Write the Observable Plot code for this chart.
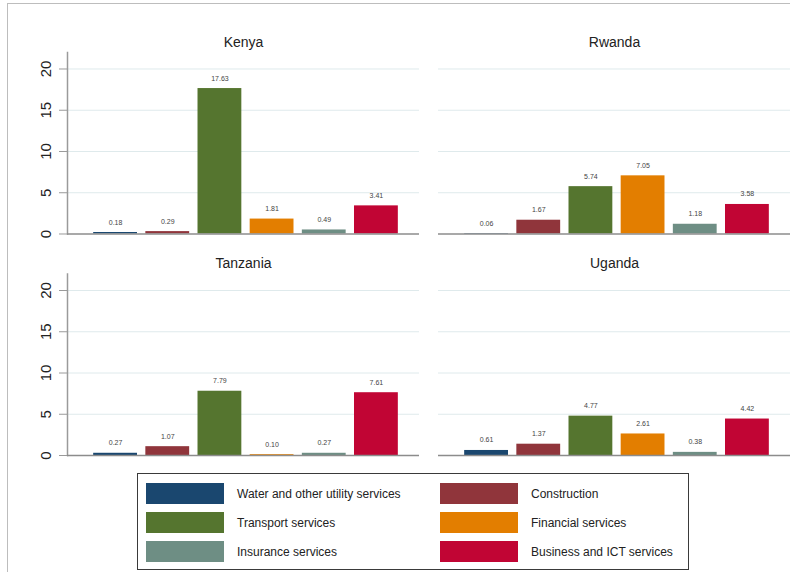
<!DOCTYPE html>
<html>
<head>
<meta charset="utf-8">
<script src="https://cdn.jsdelivr.net/npm/d3@7"></script>
<script src="https://cdn.jsdelivr.net/npm/@observablehq/plot@0.6"></script>
<style>
  html, body { margin: 0; padding: 0; background: #fff; }
  #page { position: relative; width: 790px; height: 572px; overflow: hidden; font-family: "Liberation Sans", Arial, sans-serif; }
  #border { position: absolute; left: 7px; top: 3px; right: -2px; bottom: -2px; border-left: 1px solid #bdbdbd; border-top: 1px solid #bdbdbd; }
  #chart { position: absolute; left: 0; top: 0; }
  #legend { position: absolute; left: 137px; top: 473px; width: 550px; height: 95px; border: 1px solid #3a3a3a; box-sizing: content-box; }
  .item { position: absolute; display: flex; align-items: center; font-size: 12px; color: #222; }
  .sw { width: 78px; height: 21px; margin-right: 13px; }
</style>
</head>
<body>
<div id="page">
  <div id="border"></div>
  <div id="chart"></div>
  <div id="legend"></div>
</div>
<script>
// Service sectors and their bar colours
const sectors = [
  "Water and other utility services",
  "Construction",
  "Transport services",
  "Financial services",
  "Insurance services",
  "Business and ICT services"
];
const sectorColors = ["#1a476f", "#90353b", "#55752f", "#e37e00", "#6e8e84", "#c10534"];

// Panels: country name, column and row
const countries = ["Kenya", "Rwanda", "Tanzania", "Uganda"];
const panelCol = [0, 1, 0, 1];
const panelRow = [0, 0, 1, 1];

// Values per country, in sector order
const kenya    = [0.18, 0.29, 17.63, 1.81, 0.49, 3.41];
const rwanda   = [0.06, 1.67, 5.74, 7.05, 1.18, 3.58];
const tanzania = [0.27, 1.07, 7.79, 0.10, 0.27, 7.61];
const uganda   = [0.61, 1.37, 4.77, 2.61, 0.38, 4.42];

const yTicks = [0, 5, 10, 15, 20];

const seriesByCountry = [kenya, rwanda, tanzania, uganda];
const rows = countries.flatMap((c, i) =>
  sectors.map((s, j) => ({country: c, col: panelCol[i], row: panelRow[i], sector: s, value: seriesByCountry[i][j]}))
);
const panels = countries.map((c, i) => ({country: c, col: panelCol[i], row: panelRow[i]}));

const chart = Plot.plot({
  width: 790,
  height: 468,
  marginLeft: 67,
  marginRight: 0,
  marginTop: 52,
  marginBottom: 13,
  style: {fontFamily: "Liberation Sans, Arial, sans-serif", background: "transparent"},
  fx: {axis: null, paddingInner: 0.0512, paddingOuter: 0, round: false},
  fy: {axis: null, paddingInner: 0.1806, paddingOuter: 0, round: false},
  x: {domain: sectors, axis: null, paddingInner: 0.16, paddingOuter: 0.08, insetLeft: 22, insetRight: 17, round: false},
  y: {domain: [0, 22], axis: null},
  color: {domain: sectors, range: sectorColors},
  marks: [
    Plot.gridY(yTicks.filter(t => t > 0), {stroke: "#dfeaec", strokeOpacity: 1}),
    Plot.frame({anchor: "left", facetAnchor: "left", stroke: "#9a9a9a", strokeWidth: 1.5}),
    Plot.axisY(yTicks, {tickSize: 8, stroke: "#9a9a9a", text: null, label: null}),
    Plot.axisY(yTicks, {tickSize: 0, tickPadding: 17, tickRotate: -90, fontSize: 15, fill: "#222", label: null}),
    Plot.barY(rows, {fx: "col", fy: "row", x: "sector", y: "value", fill: "sector"}),
    Plot.ruleY([0], {stroke: "#8c8c8c", strokeWidth: 1.5}),
    Plot.text(rows, {fx: "col", fy: "row", x: "sector", y: "value", text: d => d.value.toFixed(2), dy: -8, lineAnchor: "bottom", fontSize: 7, fill: "#444"}),
    Plot.text(panels, {fx: "col", fy: "row", text: "country", frameAnchor: "top", dy: -10, lineAnchor: "middle", fontSize: 14, fill: "#222"})
  ]
});
document.getElementById("chart").append(chart);

// Legend: two columns, three rows
const legend = document.getElementById("legend");
sectors.forEach((s, i) => {
  const col = i % 2, row = Math.floor(i / 2);
  const item = document.createElement("div");
  item.className = "item";
  item.style.left = (8 + col * 294) + "px";
  item.style.top = (9 + row * 29) + "px";
  const sw = document.createElement("div");
  sw.className = "sw";
  sw.style.background = sectorColors[i];
  const label = document.createElement("span");
  label.textContent = s;
  item.append(sw, label);
  legend.append(item);
});
</script>
</body>
</html>
